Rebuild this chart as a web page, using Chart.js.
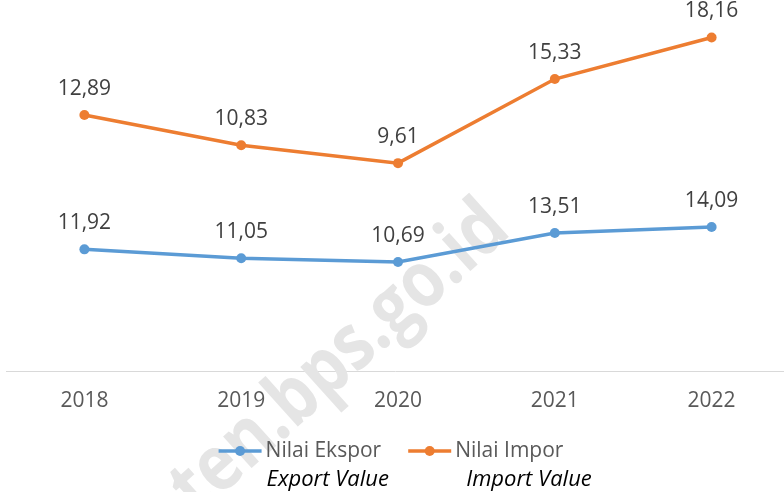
<!DOCTYPE html>
<html>
<head>
<meta charset="utf-8">
<script src="https://cdn.jsdelivr.net/npm/chart.js@4.4.1/dist/chart.umd.min.js"></script>
<style>
  html, body { margin: 0; padding: 0; background: #fff; }
  #wrap { width: 784px; height: 492px; position: relative; }
</style>
</head>
<body>
<div id="wrap"><canvas id="tradeChart" width="784" height="492"></canvas></div>
<script>
// Nilai ekspor / impor per tahun
const years = ['2018', '2019', '2020', '2021', '2022'];
const exportValues = [11.92, 11.05, 10.69, 13.51, 14.09];
const importValues = [12.89, 10.83, 9.61, 15.33, 18.16];
const seriesNames = ['Nilai Ekspor', 'Nilai Impor'];
const seriesSubtitles = ['Export Value', 'Import Value'];

const blue = '#5B9BD5';
const orange = '#ED7D31';
const FONT = "'Open Sans', 'DejaVu Sans', sans-serif";

const fmt = v => v.toFixed(2).replace('.', ',');

// the category band runs a few px past the right edge in the original
const widenX = {
  id: 'widenX',
  afterLayout(chart) {
    const x = chart.scales.x;
    x.right = x.left + 784;
    x.width = 784;
    x.configure();
  }
};

// faint watermark behind everything
const watermark = {
  id: 'watermark',
  beforeDatasetsDraw(chart) {
    const ctx = chart.ctx;
    ctx.save();
    ctx.translate(355, 375);
    ctx.rotate(-42 * Math.PI / 180);
    ctx.scale(1, 1.18);
    ctx.font = "bold 66px 'Open Sans', sans-serif";
    ctx.fillStyle = '#e5e5e5';
    ctx.textAlign = 'center';
    ctx.textBaseline = 'alphabetic';
    ctx.fillText('ten.bps.go.id', 0, 0);
    ctx.restore();
  }
};

// value labels above points
const valueLabels = {
  id: 'valueLabels',
  afterDatasetsDraw(chart) {
    const ctx = chart.ctx;
    ctx.save();
    ctx.font = '21px ' + FONT;
    ctx.fillStyle = '#404040';
    ctx.textAlign = 'center';
    ctx.textBaseline = 'middle';
    chart.data.datasets.forEach((ds, i) => {
      chart.getDatasetMeta(i).data.forEach((pt, j) => {
        ctx.fillText(fmt(ds.data[j]), pt.x, pt.y - 26);
      });
    });
    ctx.restore();
  }
};

// legend with english subtitles underneath
const customLegend = {
  id: 'customLegend',
  afterDraw(chart) {
    const ctx = chart.ctx;
    const dsets = chart.data.datasets;
    ctx.save();
    ctx.font = '21px ' + FONT;
    const lineW = 43, gap = 4, itemGap = 27;
    const widths = dsets.map(d => ctx.measureText(d.label).width);
    const total = widths.reduce((a, w) => a + lineW + gap + w, 0) + itemGap * (dsets.length - 1);
    let x = 391 - total / 2;
    const y = 451;
    const subOffset = [1, 11];
    dsets.forEach((d, i) => {
      ctx.strokeStyle = d.borderColor;
      ctx.lineWidth = 3.5;
      ctx.beginPath();
      ctx.moveTo(x, y);
      ctx.lineTo(x + lineW, y);
      ctx.stroke();
      ctx.fillStyle = d.borderColor;
      ctx.beginPath();
      ctx.arc(x + lineW / 2, y, 5, 0, Math.PI * 2);
      ctx.fill();
      const tx = x + lineW + gap;
      ctx.font = '21px ' + FONT;
      ctx.fillStyle = '#595959';
      ctx.textBaseline = 'middle';
      ctx.fillText(d.label, tx, y);
      ctx.font = 'italic 22px ' + FONT;
      ctx.fillStyle = '#000';
      ctx.fillText(seriesSubtitles[i], tx + subOffset[i], y + 29);
      x = tx + widths[i] + itemGap;
    });
    ctx.restore();
  }
};

new Chart(document.getElementById('tradeChart'), {
  type: 'line',
  data: {
    labels: years,
    datasets: [
      {
        label: seriesNames[0],
        data: exportValues,
        yAxisID: 'y',
        borderColor: blue,
        backgroundColor: blue,
        borderWidth: 3.5,
        pointRadius: 5,
        pointBackgroundColor: blue,
        pointBorderWidth: 0,
        tension: 0
      },
      {
        label: seriesNames[1],
        data: importValues,
        yAxisID: 'y2',
        borderColor: orange,
        backgroundColor: orange,
        borderWidth: 3.5,
        pointRadius: 5,
        pointBackgroundColor: orange,
        pointBorderWidth: 0,
        tension: 0
      }
    ]
  },
  options: {
    responsive: false,
    animation: false,
    layout: { padding: { top: 10, left: 6, right: 0, bottom: 61 } },
    plugins: {
      legend: { display: false },
      tooltip: { enabled: false }
    },
    scales: {
      x: {
        offset: true,
        grid: { display: false, drawTicks: false },
        border: { display: true, color: '#d9d9d9', width: 1 },
        ticks: { color: '#595959', padding: 17, font: { size: 21, family: FONT } }
      },
      y: { display: false, min: 0, max: 35.22 },
      y2: { display: false, min: -4.59, max: 20.03 }
    }
  },
  plugins: [widenX, watermark, valueLabels, customLegend]
});
</script>
</body>
</html>
